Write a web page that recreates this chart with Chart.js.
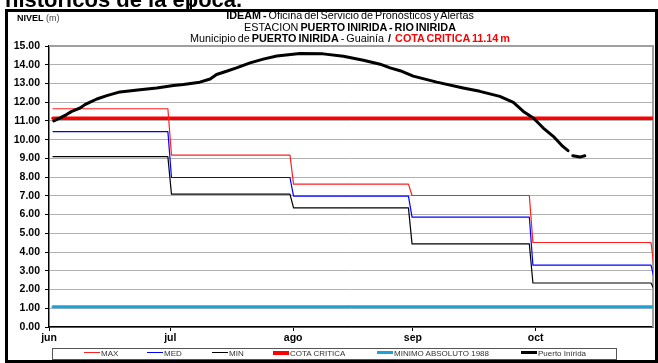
<!DOCTYPE html>
<html>
<head>
<meta charset="utf-8">
<script src="https://cdn.jsdelivr.net/npm/chart.js@4.4.1/dist/chart.umd.min.js"></script>
<style>
  body { margin: 0; background: #fff; width: 658px; height: 363px; overflow: hidden; position: relative; font-family: Arial, "Liberation Sans", sans-serif; }
  #wrap { position: absolute; left: 0; top: 0; width: 658px; height: 363px; }
  .over { position: absolute; white-space: nowrap; }
  #heading { left: 5px; top: -11px; font-size: 22px; line-height: 22px; font-weight: bold; color: #000; }
  #tick { left: 190px; top: 0; width: 1.5px; height: 10px; background: #000; }
  #frame { left: 5px; top: 9px; width: 653px; height: 354px; box-sizing: border-box; border: 3px solid #000; }
  #title { left: 150px; width: 400px; top: 10px; text-align: center; font-size: 10.8px; line-height: 11.5px; color: #000; word-spacing: -1px; }
  #title b { font-weight: bold; }
  #title .red { color: #ff0000; font-weight: bold; }
  #unit { left: 17px; top: 13px; font-size: 9px; color: #000; }
  #legend { left: 52px; top: 348px; width: 565px; height: 12px; box-sizing: border-box; border: 1px solid #555; background: #fff; font-size: 8px; color: #333; }
  .item { position: absolute; top: 0; height: 10px; line-height: 10px; }
  .item i { display: inline-block; vertical-align: middle; width: 16px; margin-right: 1px; position: relative; top: -1px; }
</style>
</head>
<body>
<div id="wrap"><canvas id="chart" width="658" height="363"></canvas></div>
<div class="over" id="heading">históricos de la época.</div>
<div class="over" id="tick"></div>
<div class="over" id="frame"></div>
<div class="over" id="title">
  <b>IDEAM -</b> Oficina del Servicio de Pronósticos y Alertas<br>
  ESTACION <b>PUERTO INIRIDA - RIO INIRIDA</b><br>
  Municipio de <b>PUERTO INIRIDA</b> - Guainía &nbsp;<b>/</b>&nbsp; <span class="red">COTA CRITICA 11.14 m</span>
</div>
<div class="over" id="unit"><b>NIVEL</b> <span style="color:#444">(m)</span></div>
<div class="over" id="legend"></div>
<script>
// x axis: days counted from 1 June
const monthLabels = ['jun', 'jul', 'ago', 'sep', 'oct'];
const monthTickDays = [0, 30.4, 61.2, 91.2, 122];

// historical monthly levels (m), one value per month jun..nov
const stepDays = [1, 29.8, 60.4, 90.1, 120.4, 150.9];
const maxLevels = [11.65, 9.18, 7.63, 7.02, 4.51, 2.9];
const medLevels = [10.43, 7.98, 6.99, 5.87, 3.30, 2.5];
const minLevels = [9.09, 7.09, 6.36, 4.44, 2.35, 1.95];

const cotaCritica = 11.14;
const minimoAbsoluto = 1.08;

// observed levels at Puerto Inírida
const riverDays = [1.2, 2.8, 4.4, 5.7, 7.8, 9.0, 10.3, 12.0, 14.5, 17.8,
  22.8, 27.0, 31.2, 33.7, 37.8, 40.4, 42.0, 44.5, 47.0, 50.4,
  53.7, 57.1, 62.9, 68.7, 73.8, 78.8, 83.0, 85.5, 88.0, 91.3,
  97.2, 103.8, 108.0, 113.0, 116.4, 118.9, 121.4, 123.9, 126.4, 128.8,
  130.1, 130.7, 131.3, 133.1, 134.3];
const riverLevels = [11.00, 11.16, 11.34, 11.51, 11.69, 11.87, 12.00, 12.17, 12.35, 12.55,
  12.67, 12.76, 12.89, 12.95, 13.07, 13.24, 13.48, 13.65, 13.83, 14.10,
  14.30, 14.47, 14.60, 14.58, 14.45, 14.24, 14.03, 13.83, 13.68, 13.39,
  13.07, 12.76, 12.58, 12.31, 11.99, 11.51, 11.16, 10.62, 10.18, 9.64,
  9.41, null, 9.14, 9.07, 9.14];

const X_END = 151.4;

function buildSteps(levels) {
  const pts = [{ x: stepDays[0], y: levels[0] }];
  for (let i = 1; i < stepDays.length; i++) {
    pts.push({ x: stepDays[i], y: levels[i - 1] });
    pts.push({ x: stepDays[i] + 0.9, y: levels[i] });
  }
  return pts;
}

function flat(value) {
  return [{ x: stepDays[0], y: value }, { x: X_END, y: value }];
}

const series = [
  { label: 'MAX', data: buildSteps(maxLevels), color: '#ff2020', width: 1.2 },
  { label: 'MED', data: buildSteps(medLevels), color: '#0000ff', width: 1.2 },
  { label: 'MIN', data: buildSteps(minLevels), color: '#000000', width: 1.2 },
  { label: 'COTA CRITICA', data: flat(cotaCritica), color: '#ff0000', width: 3.5 },
  { label: 'MINIMO ABSOLUTO 1988', data: flat(minimoAbsoluto), color: '#1ba3d9', width: 3 },
  { label: 'Puerto Inírida', data: riverDays.map((d, i) => ({ x: d, y: riverLevels[i] })), color: '#000000', width: 3 }
];

// gray border on top and right of the plot
const plotBorder = {
  id: 'plotBorder',
  beforeDatasetsDraw(chart) {
    const { ctx, chartArea: a } = chart;
    ctx.save();
    ctx.strokeStyle = '#a0a0a0';
    ctx.lineWidth = 2;
    ctx.beginPath();
    ctx.moveTo(a.left, a.top);
    ctx.lineTo(a.right, a.top);
    ctx.lineTo(a.right, a.bottom);
    ctx.stroke();
    ctx.restore();
  }
};

const tickFont = { family: 'Arial, "Liberation Sans"', size: 10.5, weight: 'bold' };

new Chart(document.getElementById('chart'), {
  type: 'line',
  data: {
    datasets: series.map((s, i) => ({
      label: s.label,
      data: s.data,
      borderColor: s.color,
      borderWidth: s.width,
      pointRadius: 0,
      tension: 0,
      spanGaps: false,
      clip: 0,
      borderCapStyle: 'round',
      borderJoinStyle: 'round',
      order: i === 5 ? 0 : 1
    }))
  },
  options: {
    responsive: false,
    animation: false,
    layout: { padding: { left: 0, top: 46, right: 5, bottom: 0 } },
    plugins: { legend: { display: false }, tooltip: { enabled: false }, title: { display: false } },
    scales: {
      x: {
        type: 'linear',
        min: 0,
        max: X_END,
        afterFit: s => { s.height = 36; },
        afterBuildTicks: s => { s.ticks = monthTickDays.map(v => ({ value: v })); },
        ticks: {
          font: tickFont,
          color: '#000',
          padding: 1,
          maxRotation: 0,
          autoSkip: false,
          callback: (v, i) => monthLabels[i]
        },
        grid: { drawOnChartArea: false, drawTicks: true, tickLength: 4, tickColor: '#000', tickWidth: 1 },
        border: { color: '#000', width: 1.5 }
      },
      y: {
        min: 0,
        max: 15,
        afterFit: s => { s.width = 49; },
        ticks: {
          stepSize: 1,
          font: tickFont,
          color: '#000',
          padding: 5,
          callback: v => v.toFixed(2)
        },
        grid: {
          color: '#b0b0b0',
          borderDash: [2, 1],
          lineWidth: 1,
          drawTicks: true,
          tickLength: 4,
          tickColor: '#000',
          tickBorderDash: []
        },
        border: { color: '#000', width: 1.5 }
      }
    }
  },
  plugins: [plotBorder]
});

// legend row under the axis
const legendPos = [31, 94, 159, 220, 324, 468];
const legend = document.getElementById('legend');
series.forEach((s, i) => {
  const el = document.createElement('div');
  el.className = 'item';
  el.style.left = legendPos[i] + 'px';
  const sw = document.createElement('i');
  sw.style.height = Math.max(1, Math.round(s.width)) + 'px';
  sw.style.background = s.color;
  el.appendChild(sw);
  el.appendChild(document.createTextNode(s.label));
  legend.appendChild(el);
});
</script>
</body>
</html>
